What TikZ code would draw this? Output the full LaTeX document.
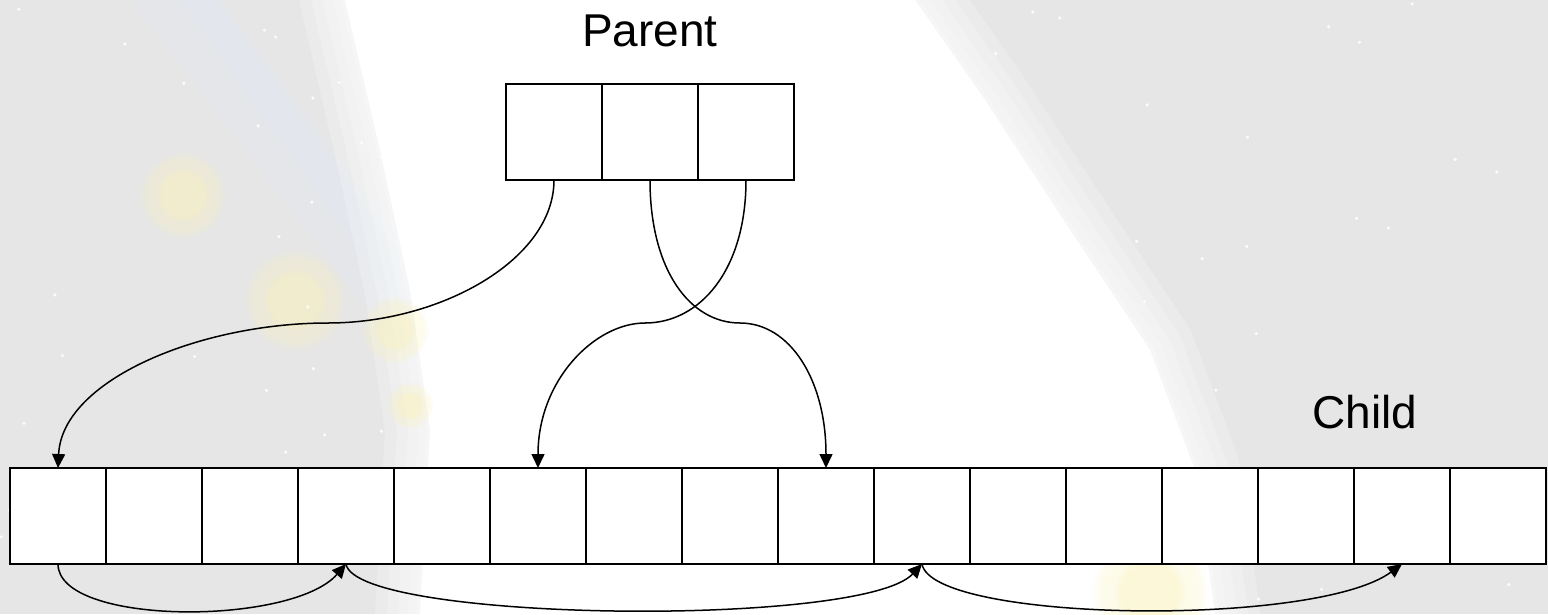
\documentclass[tikz,border=0pt]{standalone}
\usepackage{fontspec}
\setmainfont{Liberation Sans}
\usetikzlibrary{arrows.meta,fadings}
\definecolor{bggray}{RGB}{230,230,231}
\definecolor{glow}{RGB}{250,242,185}
\definecolor{streak}{RGB}{225,230,242}
\begin{document}
\begin{tikzpicture}[x=1pt,y=-1pt,
  cell/.style={draw, fill=white, line width=1.8pt, minimum width=96pt,
    minimum height=96pt, inner sep=0pt, outer sep=0pt},
  link/.style={line width=1.5pt, -{Triangle[length=14pt,width=13pt]}},
  lbl/.style={font=\fontsize{46}{55}\selectfont, inner sep=0pt, anchor=base},
  soft/.style={white, opacity=0.2, line join=round}]

% faded night-sky backdrop
\fill[bggray] (0,0) rectangle (1548,614);
\useasboundingbox (0,0) rectangle (1548,614);
\draw[streak, line width=70pt, opacity=0.3, line cap=round] (160,-20) -- (520,450);
\draw[streak, line width=30pt, opacity=0.3, line cap=round] (185,-20) -- (520,450);
\def\band{(345,0) -- (915,0) -- (985,100) -- (1070,230) -- (1150,350)
  -- (1195,470) -- (1215,614) -- (420,614) -- (430,430) -- (410,290)
  -- (380,150) -- cycle}
\draw[soft, line width=90pt] \band;
\draw[soft, line width=66pt] \band;
\draw[soft, line width=44pt] \band;
\draw[soft, line width=24pt] \band;
\draw[soft, line width=8pt] \band;
\fill[white] \band;
\foreach \x/\y/\r in {183/195/34, 295/300/40, 395/330/26, 410/405/18, 1150/592/45} {
  \fill[glow, opacity=0.3, path fading=circle with fuzzy edge 20 percent]
    (\x,\y) circle (1.3*\r);
  \fill[glow, opacity=0.35, path fading=circle with fuzzy edge 20 percent]
    (\x,\y) circle (0.8*\r);
}
\pgfmathsetseed{11}
\foreach \k in {1,...,90} {
  \pgfmathsetmacro\sx{rnd*1548}
  \pgfmathsetmacro\sy{rnd*614}
  \fill[white, opacity=0.85] (\sx,\sy) circle (1.8);
}

% labels
\node[lbl] (parent) at (650,46) {Parent};
\node[lbl] (child) at (1365,428) {Child};

% parent and child arrays
\foreach \i in {1,2,3} \node[cell] (p\i) at (458+96*\i,132) {};
\foreach \i in {0,...,15} \node[cell] (c\i) at (58+96*\i,516) {};

% bends of the parent-to-child links
\coordinate (k1) at (328,323);
\coordinate (k2) at (740,323);
\coordinate (k3) at (645,323);

\draw[link] (p1.south) .. controls (554,260) and (440,323) .. (k1)
  .. controls (200,323) and (62,380) .. (c0.north);
\draw[link] (p2.south) .. controls (650,270) and (690,323) .. (k2)
  .. controls (790,323) and (826,380) .. (c8.north);
\draw[link] (p3.south) .. controls (746,270) and (700,323) .. (k3)
  .. controls (595,323) and (538,380) .. (c5.north);

% links along the child array
\draw[link] (c0.south) .. controls (58,626) and (292,626) .. (c3.south);
\draw[link] (c3.south) .. controls (356,622) and (862,628) .. (c9.south);
\draw[link] (c9.south) .. controls (932,622) and (1315,628) .. (c14.south);
\end{tikzpicture}
\end{document}
